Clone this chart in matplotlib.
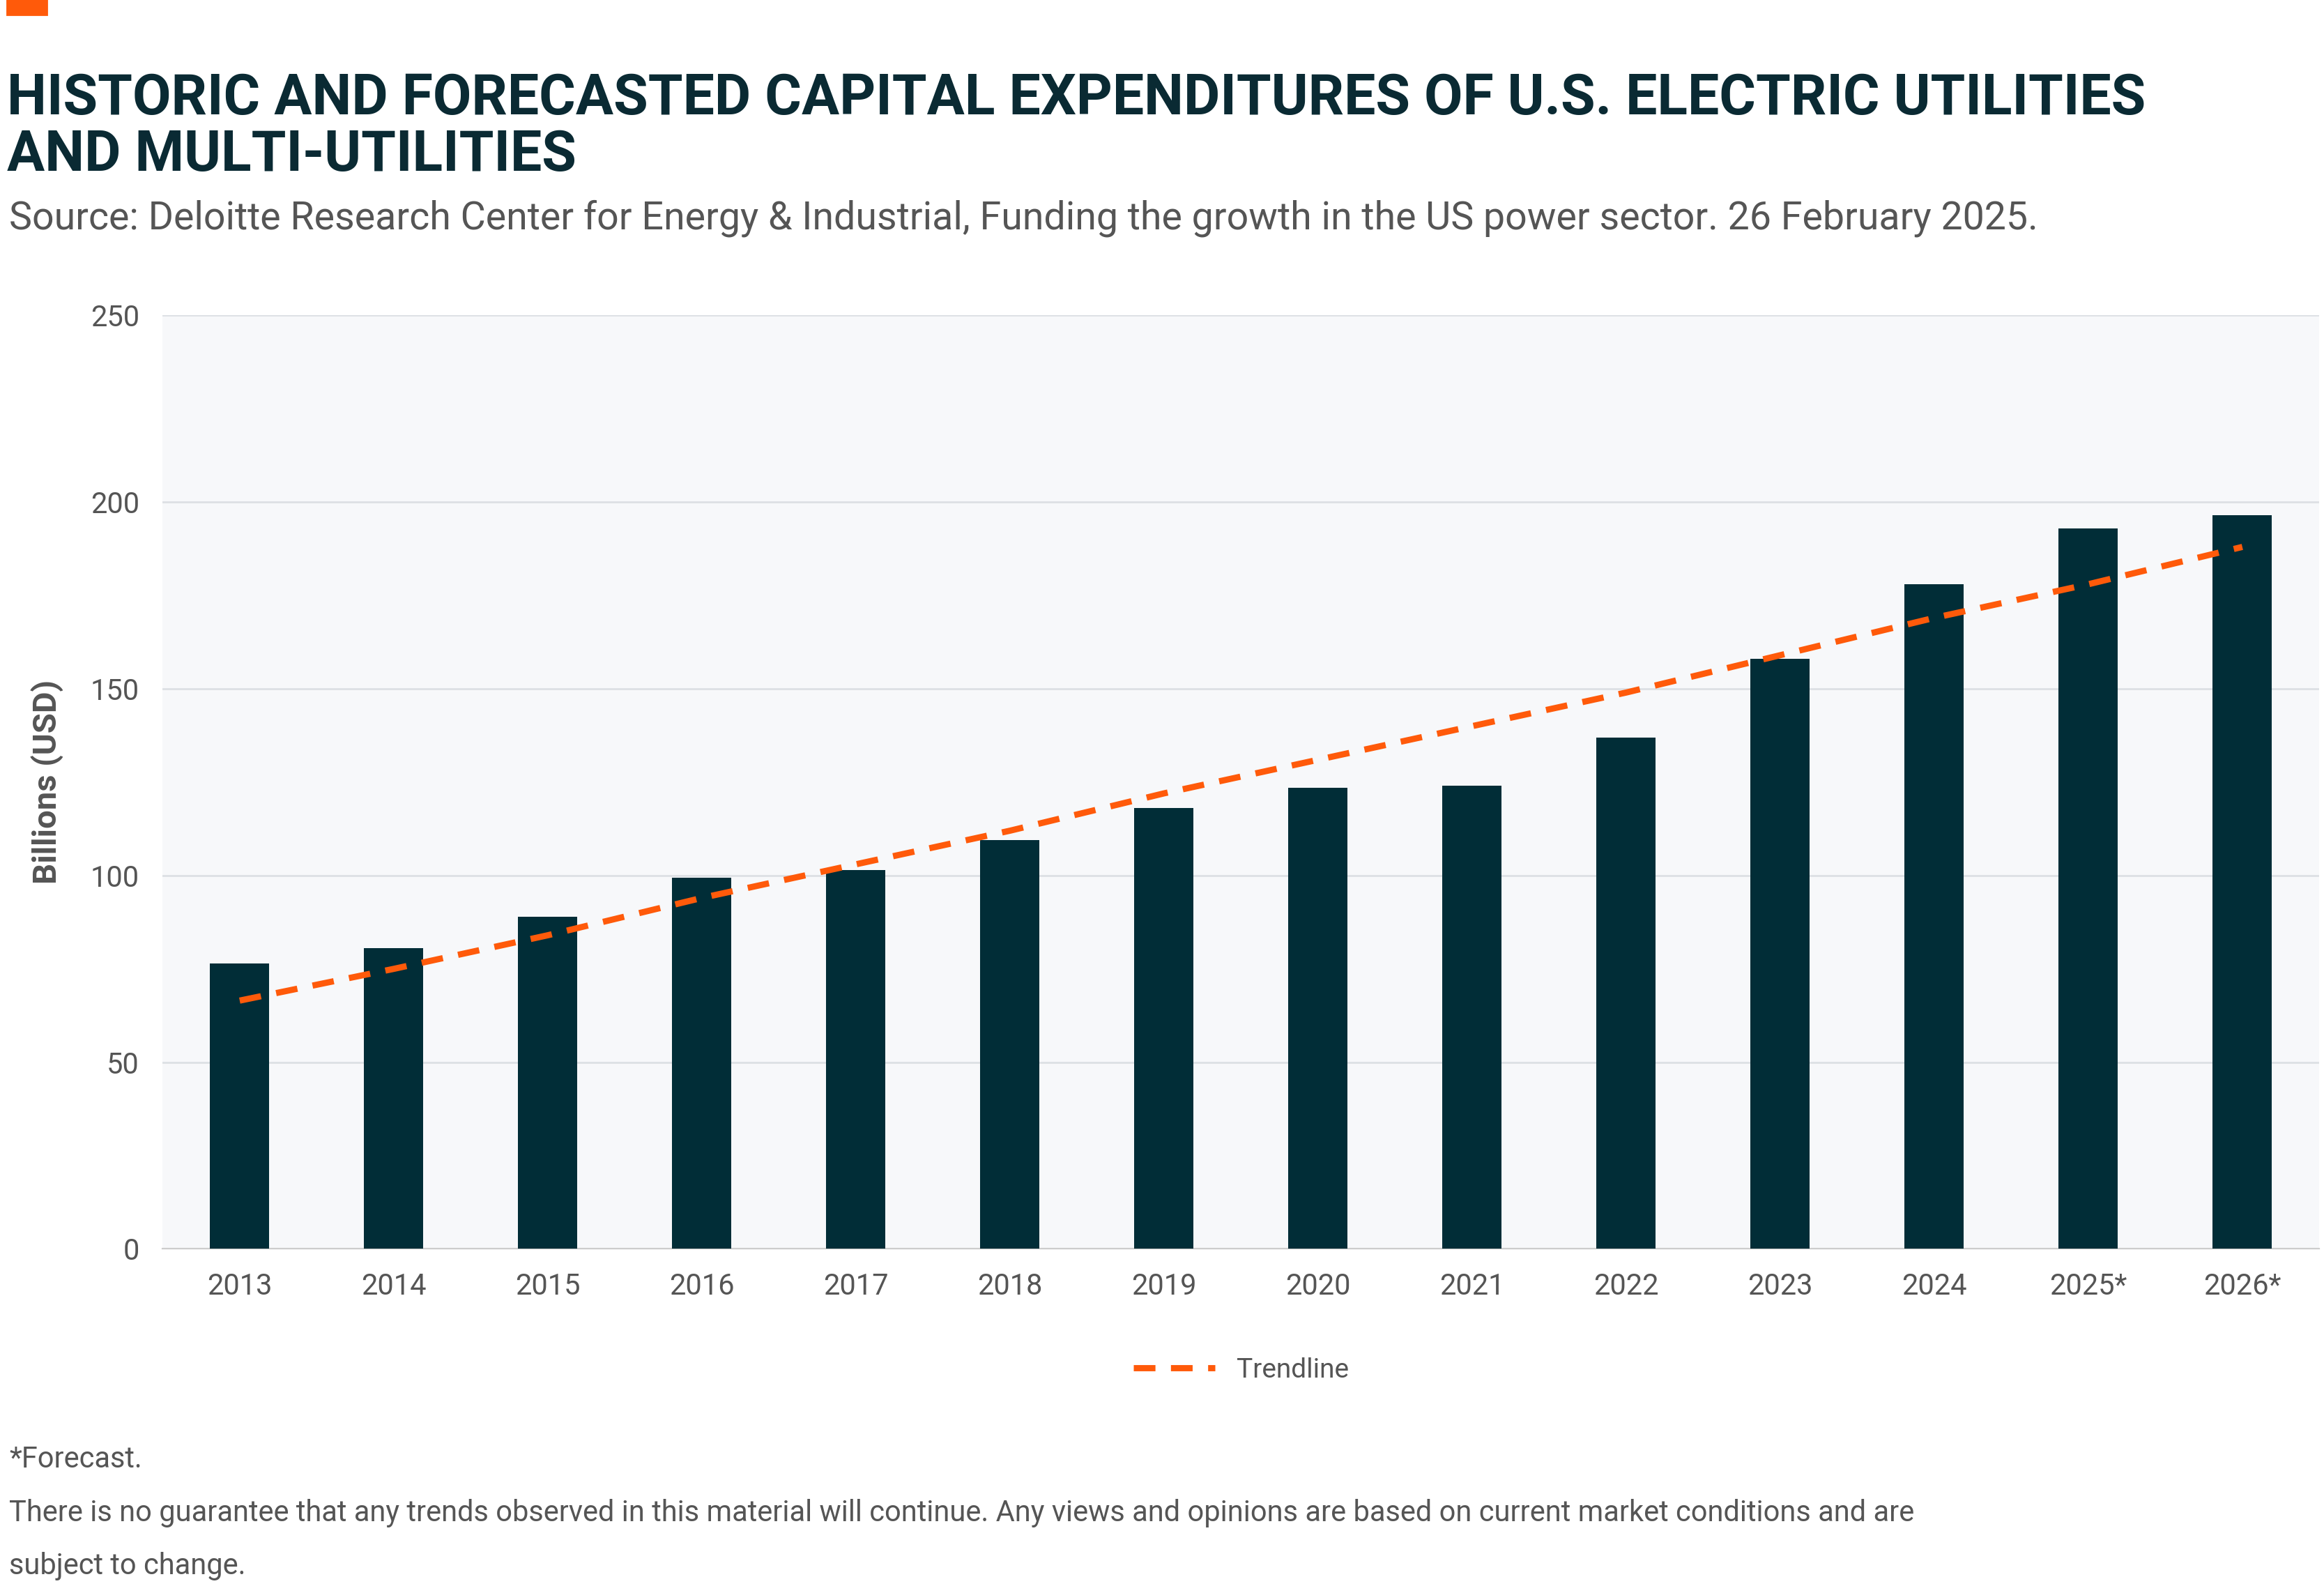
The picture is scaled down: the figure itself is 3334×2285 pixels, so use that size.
import numpy as np
import matplotlib.pyplot as plt
from matplotlib.lines import Line2D
from matplotlib.patches import Rectangle

# ============================================================
# Data
# ============================================================
years = ['2013', '2014', '2015', '2016', '2017', '2018', '2019',
         '2020', '2021', '2022', '2023', '2024', '2025*', '2026*']
capex = [76.5, 80.5, 89, 99.5, 101.5, 109.5, 118,
         123.5, 124, 137, 158, 178, 193, 196.5]
trend = [66.5, 75, 84, 94, 103, 112, 122,
         131, 140, 149, 159, 169, 178, 188]

BAR = '#012d37'
ORANGE = '#ff5a0a'
TXT = '#555555'

plt.rcParams['font.family'] = ['Roboto', 'DejaVu Sans']

fig = plt.figure(figsize=(16.67, 11.425), dpi=200)
ax = fig.add_axes([0.070, 0.216, 0.928, 0.586])

x = np.arange(len(years))
ax.bar(x, capex, 0.385, color=BAR, zorder=3)
ax.plot(x, trend, color=ORANGE, linestyle=(0, (3.5, 2.5)), linewidth=3.2, zorder=4)

ax.set_facecolor('#f7f8fa')
ax.set_xlim(-0.5, len(years) - 0.5)
ax.set_ylim(0, 250)
ax.set_yticks(range(0, 251, 50))
ax.grid(True, axis='y', color='#dde0e4', linewidth=1, zorder=0)
ax.set_xticks(x)
ax.set_xticklabels(years)
ax.tick_params(axis='both', length=0, labelsize=15, labelcolor=TXT, pad=12)
for s in ['top', 'right', 'left']:
    ax.spines[s].set_visible(False)
ax.spines['bottom'].set_color('#cccccc')
ax.set_ylabel('Billions (USD)', fontsize=17, color=TXT, fontweight='bold', labelpad=14)

ax.legend(handles=[Line2D([0], [0], color=ORANGE, linestyle=(0, (3.5, 2.5)), linewidth=3.2,
                          label='Trendline')],
          loc='upper center', bbox_to_anchor=(0.5, -0.09), frameon=False,
          fontsize=14, labelcolor=TXT, handlelength=3)

fig.patches.append(Rectangle((0.003, 0.991), 0.017, 0.009, transform=fig.transFigure,
                             color=ORANGE))
fig.text(0.003, 0.955, 'HISTORIC AND FORECASTED CAPITAL EXPENDITURES OF U.S. ELECTRIC UTILITIES\nAND MULTI-UTILITIES',
         fontsize=29, fontweight='bold', color='#0a2a33', va='top', linespacing=1.05)
fig.text(0.004, 0.863, 'Source: Deloitte Research Center for Energy & Industrial, Funding the growth in the US power sector. 26 February 2025.',
         fontsize=20, color=TXT, va='center')
fig.text(0.004, 0.084, '*Forecast.', fontsize=15, color=TXT, va='center')
fig.text(0.004, 0.050, 'There is no guarantee that any trends observed in this material will continue. Any views and opinions are based on current market conditions and are',
         fontsize=15, color=TXT, va='center')
fig.text(0.004, 0.017, 'subject to change.', fontsize=15, color=TXT, va='center')

fig.savefig('out.png', dpi=200)
